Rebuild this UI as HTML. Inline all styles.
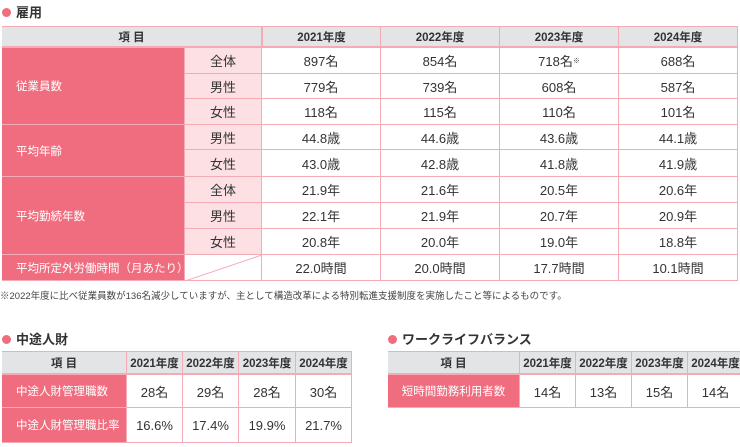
<!DOCTYPE html>
<html><head><meta charset="utf-8"><style>
body{margin:0;width:740px;height:447px;background:#fff;position:relative;overflow:hidden;font-family:"Liberation Sans","Noto Sans CJK JP",sans-serif;color:#333}
.c{position:absolute;box-sizing:border-box;display:flex;align-items:center;justify-content:center;border-right:1px solid #f4abb5;border-bottom:1px solid #f4abb5;font-size:13px;background:#fff}
.h{background:#e3e4e6;font-weight:600;font-size:11.5px;border-bottom:2px solid #f4abb5}
.d{background:#ef6d7e;color:#fff;justify-content:flex-start;padding-left:14px;font-size:11.5px}
.l{background:#fde0e3}
.t{position:absolute;font-size:13px;font-weight:bold;color:#333}
.t:before{content:"";display:inline-block;width:9px;height:9px;border-radius:50%;background:#ef6d7e;margin-right:5px;vertical-align:0px}
</style></head><body>
<div class="t" style="left:2px;top:2px">雇用</div>
<div style="position:absolute;left:2px;top:26px;width:736px;height:1px;background:#f4abb5"></div>
<div class="c h" style="left:2px;top:27px;width:260px;height:21px">項 目</div>
<div class="c h" style="left:262px;top:27px;width:119px;height:21px;border-left:1px solid #f4abb5">2021年度</div>
<div class="c h" style="left:381px;top:27px;width:119px;height:21px">2022年度</div>
<div class="c h" style="left:500px;top:27px;width:119px;height:21px">2023年度</div>
<div class="c h" style="left:619px;top:27px;width:119px;height:21px">2024年度</div>

<div class="c d" style="left:2px;top:48px;width:183px;height:77px">従業員数</div>
<div class="c d" style="left:2px;top:125px;width:183px;height:52px">平均年齢</div>
<div class="c d" style="left:2px;top:177px;width:183px;height:78px">平均勤続年数</div>
<div class="c d" style="left:2px;top:255px;width:183px;height:26px">平均所定外労働時間（月あたり）</div>

<div class="c l" style="left:185px;top:48px;width:77px;height:26px">全体</div>
<div class="c l" style="left:185px;top:74px;width:77px;height:25px">男性</div>
<div class="c l" style="left:185px;top:99px;width:77px;height:26px">女性</div>
<div class="c l" style="left:185px;top:125px;width:77px;height:25px">男性</div>
<div class="c l" style="left:185px;top:150px;width:77px;height:27px">女性</div>
<div class="c l" style="left:185px;top:177px;width:77px;height:26px">全体</div>
<div class="c l" style="left:185px;top:203px;width:77px;height:26px">男性</div>
<div class="c l" style="left:185px;top:229px;width:77px;height:26px">女性</div>
<div class="c" style="left:185px;top:255px;width:77px;height:26px"><svg width="77" height="26" style="position:absolute;left:0;top:0"><line x1="0" y1="26" x2="77" y2="0" stroke="#f4abb5"/></svg></div>

<div class="c" style="left:262px;top:48px;width:119px;height:26px">897名</div>
<div class="c" style="left:381px;top:48px;width:119px;height:26px">854名</div>
<div class="c" style="left:500px;top:48px;width:119px;height:26px">718名<sup style="font-size:7px">※</sup></div>
<div class="c" style="left:619px;top:48px;width:119px;height:26px">688名</div>
<div class="c" style="left:262px;top:74px;width:119px;height:25px">779名</div>
<div class="c" style="left:381px;top:74px;width:119px;height:25px">739名</div>
<div class="c" style="left:500px;top:74px;width:119px;height:25px">608名</div>
<div class="c" style="left:619px;top:74px;width:119px;height:25px">587名</div>
<div class="c" style="left:262px;top:99px;width:119px;height:26px">118名</div>
<div class="c" style="left:381px;top:99px;width:119px;height:26px">115名</div>
<div class="c" style="left:500px;top:99px;width:119px;height:26px">110名</div>
<div class="c" style="left:619px;top:99px;width:119px;height:26px">101名</div>
<div class="c" style="left:262px;top:125px;width:119px;height:25px">44.8歳</div>
<div class="c" style="left:381px;top:125px;width:119px;height:25px">44.6歳</div>
<div class="c" style="left:500px;top:125px;width:119px;height:25px">43.6歳</div>
<div class="c" style="left:619px;top:125px;width:119px;height:25px">44.1歳</div>
<div class="c" style="left:262px;top:150px;width:119px;height:27px">43.0歳</div>
<div class="c" style="left:381px;top:150px;width:119px;height:27px">42.8歳</div>
<div class="c" style="left:500px;top:150px;width:119px;height:27px">41.8歳</div>
<div class="c" style="left:619px;top:150px;width:119px;height:27px">41.9歳</div>
<div class="c" style="left:262px;top:177px;width:119px;height:26px">21.9年</div>
<div class="c" style="left:381px;top:177px;width:119px;height:26px">21.6年</div>
<div class="c" style="left:500px;top:177px;width:119px;height:26px">20.5年</div>
<div class="c" style="left:619px;top:177px;width:119px;height:26px">20.6年</div>
<div class="c" style="left:262px;top:203px;width:119px;height:26px">22.1年</div>
<div class="c" style="left:381px;top:203px;width:119px;height:26px">21.9年</div>
<div class="c" style="left:500px;top:203px;width:119px;height:26px">20.7年</div>
<div class="c" style="left:619px;top:203px;width:119px;height:26px">20.9年</div>
<div class="c" style="left:262px;top:229px;width:119px;height:26px">20.8年</div>
<div class="c" style="left:381px;top:229px;width:119px;height:26px">20.0年</div>
<div class="c" style="left:500px;top:229px;width:119px;height:26px">19.0年</div>
<div class="c" style="left:619px;top:229px;width:119px;height:26px">18.8年</div>
<div class="c" style="left:262px;top:255px;width:119px;height:26px">22.0時間</div>
<div class="c" style="left:381px;top:255px;width:119px;height:26px">20.0時間</div>
<div class="c" style="left:500px;top:255px;width:119px;height:26px">17.7時間</div>
<div class="c" style="left:619px;top:255px;width:119px;height:26px">10.1時間</div>
<div style="position:absolute;left:0;top:288px;font-size:9.5px;color:#444;white-space:nowrap">※2022年度に比べ従業員数が136名減少していますが、主として構造改革による特別転進支援制度を実施したこと等によるものです。</div>

<div class="t" style="left:2px;top:329px">中途人財</div>
<div style="position:absolute;left:2px;top:351px;width:350px;height:1px;background:#f4abb5"></div>
<div class="c h" style="left:2px;top:352px;width:125px;height:23px">項 目</div>
<div class="c h" style="left:127px;top:352px;width:56px;height:23px">2021年度</div>
<div class="c h" style="left:183px;top:352px;width:56px;height:23px">2022年度</div>
<div class="c h" style="left:239px;top:352px;width:57px;height:23px">2023年度</div>
<div class="c h" style="left:296px;top:352px;width:56px;height:23px">2024年度</div>
<div class="c d" style="left:2px;top:375px;width:125px;height:33px">中途人財管理職数</div>
<div class="c" style="left:127px;top:375px;width:56px;height:33px">28名</div>
<div class="c" style="left:183px;top:375px;width:56px;height:33px">29名</div>
<div class="c" style="left:239px;top:375px;width:57px;height:33px">28名</div>
<div class="c" style="left:296px;top:375px;width:56px;height:33px">30名</div>
<div class="c d" style="left:2px;top:408px;width:125px;height:35px">中途人財管理職比率</div>
<div class="c" style="left:127px;top:408px;width:56px;height:35px">16.6%</div>
<div class="c" style="left:183px;top:408px;width:56px;height:35px">17.4%</div>
<div class="c" style="left:239px;top:408px;width:57px;height:35px">19.9%</div>
<div class="c" style="left:296px;top:408px;width:56px;height:35px">21.7%</div>

<div class="t" style="left:388px;top:329px">ワークライフバランス</div>
<div style="position:absolute;left:388px;top:351px;width:352px;height:1px;background:#f4abb5"></div>
<div class="c h" style="left:388px;top:352px;width:132px;height:23px">項 目</div>
<div class="c h" style="left:520px;top:352px;width:56px;height:23px">2021年度</div>
<div class="c h" style="left:576px;top:352px;width:56px;height:23px">2022年度</div>
<div class="c h" style="left:632px;top:352px;width:56px;height:23px">2023年度</div>
<div class="c h" style="left:688px;top:352px;width:56px;height:23px">2024年度</div>
<div class="c d" style="left:388px;top:375px;width:132px;height:33px;justify-content:center;padding-left:0">短時間勤務利用者数</div>
<div class="c" style="left:520px;top:375px;width:56px;height:33px">14名</div>
<div class="c" style="left:576px;top:375px;width:56px;height:33px">13名</div>
<div class="c" style="left:632px;top:375px;width:56px;height:33px">15名</div>
<div class="c" style="left:688px;top:375px;width:56px;height:33px">14名</div>
</body></html>
